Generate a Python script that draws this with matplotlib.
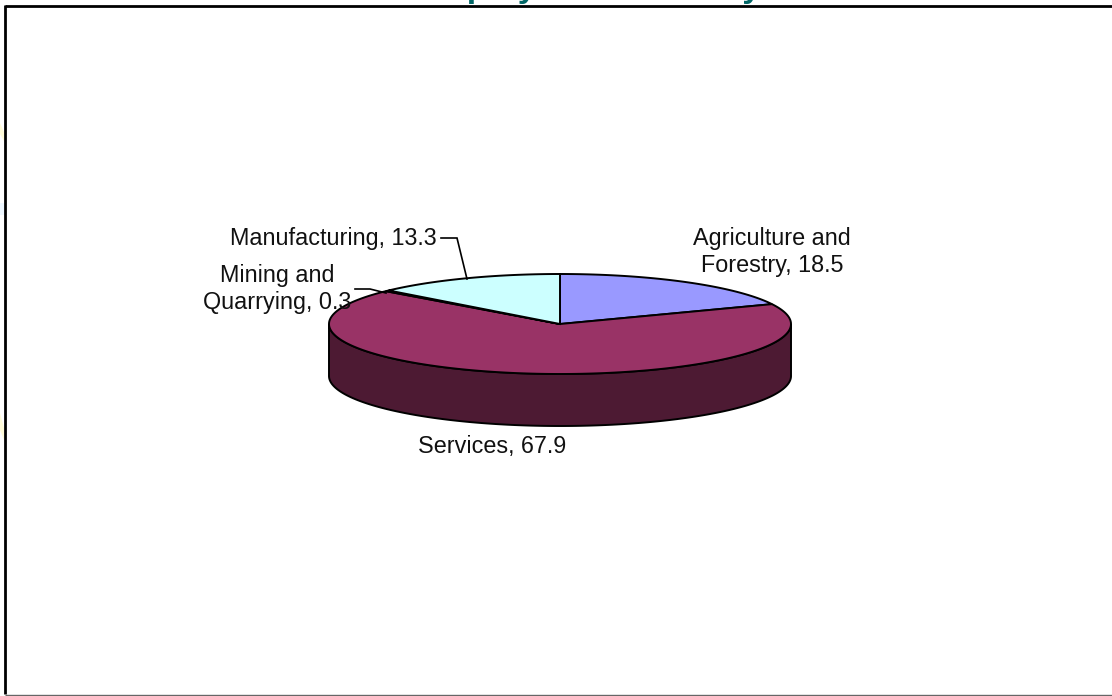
import numpy as np
import matplotlib
matplotlib.use('Agg')
import matplotlib.pyplot as plt
from matplotlib.patches import Polygon

# данные
categories = ['Agriculture and\nForestry', 'Services', 'Mining and\nQuarrying', 'Manufacturing']
values = [18.5, 67.9, 0.3, 13.3]
top_colors = ['#9999ff', '#993366', '#ffffcc', '#ccffff']
side_color = '#4d1a33'
title_text = 'Employment Industry'

W, H = 1112, 696
cx, cy = 560, 324
rx, ry = 231, 50
depth = 52

fig = plt.figure(figsize=(W / 100, H / 100), dpi=100)
ax = fig.add_axes([0, 0, 1, 1])
ax.set_xlim(0, W)
ax.set_ylim(H, 0)
ax.axis('off')


# точка на эллипсе, доля считается по часовой от 12 часов
def rim(frac):
    t = 2 * np.pi * np.asarray(frac)
    return cx + rx * np.sin(t), cy - ry * np.cos(t)


# бледные пятна фона слева от рамки
ax.add_patch(Polygon([[0, 123], [4, 132], [4, 141], [0, 134]], fc='#fffbd8', ec='none', zorder=0))
ax.add_patch(Polygon([[0, 203], [4, 203], [4, 215], [0, 215]], fc='#eef7ff', ec='none', zorder=0))
ax.add_patch(Polygon([[0, 413], [4, 428], [4, 440], [0, 430]], fc='#fffbd8', ec='none', zorder=0))

# рамка: справа линии нет, снизу тонкая
ax.plot([5, W], [6, 6], color='black', lw=2, zorder=1, solid_capstyle='butt')
ax.plot([5, 5], [5, 694], color='black', lw=2, zorder=1, solid_capstyle='butt')
ax.plot([5, W], [694.5, 694.5], color='#666666', lw=1, zorder=1, solid_capstyle='butt')

# боковая стенка
t = np.linspace(0.25, 0.75, 200)
x, y = rim(t)
side = np.r_[np.c_[x, y], np.c_[x[::-1], y[::-1] + depth]]
ax.add_patch(Polygon(side, closed=True, fc=side_color, ec='black', lw=1.4, zorder=2))

# верх пирога
start = 0
for val, col in zip(values, top_colors):
    f = np.linspace(start, start + val / sum(values), 200)
    x, y = rim(f)
    pts = np.r_[[[cx, cy]], np.c_[x, y]]
    ax.add_patch(Polygon(pts, closed=True, fc=col, ec='black', lw=1.4, zorder=3))
    start += val / sum(values)

# подписи
font = 'Liberation Sans'
fs = 16.8
lsp = 1.2
txt_col = '#111111'
ax.text(772, 252, categories[0] + ', ' + str(values[0]), ha='center', va='center', fontsize=fs,
        family=font, color=txt_col, linespacing=lsp, zorder=5)
ax.text(492, 447, categories[1] + ', ' + str(values[1]), ha='center', va='center', fontsize=fs,
        family=font, color=txt_col, zorder=5)
ax.text(277, 289, categories[2] + ', ' + str(values[2]), ha='center', va='center', fontsize=fs,
        family=font, color=txt_col, linespacing=lsp, zorder=5)
ax.text(333.5, 238, categories[3] + ', ' + str(values[3]), ha='center', va='center', fontsize=fs,
        family=font, color=txt_col, zorder=5)

# выноски
ax.plot([441, 457, 467], [238, 238, 279], color='black', lw=1.2, zorder=5, solid_joinstyle='miter')
ax.plot([355, 370, 386], [289, 289, 293], color='black', lw=1.2, zorder=5)

# заголовок обрезан верхним краем картинки
ax.text(588, -3.5, title_text, ha='center', va='baseline', fontsize=24.5, fontweight='bold',
        family=font, color='#006666', clip_on=True, zorder=5)

fig.savefig('out.png', dpi=100)
